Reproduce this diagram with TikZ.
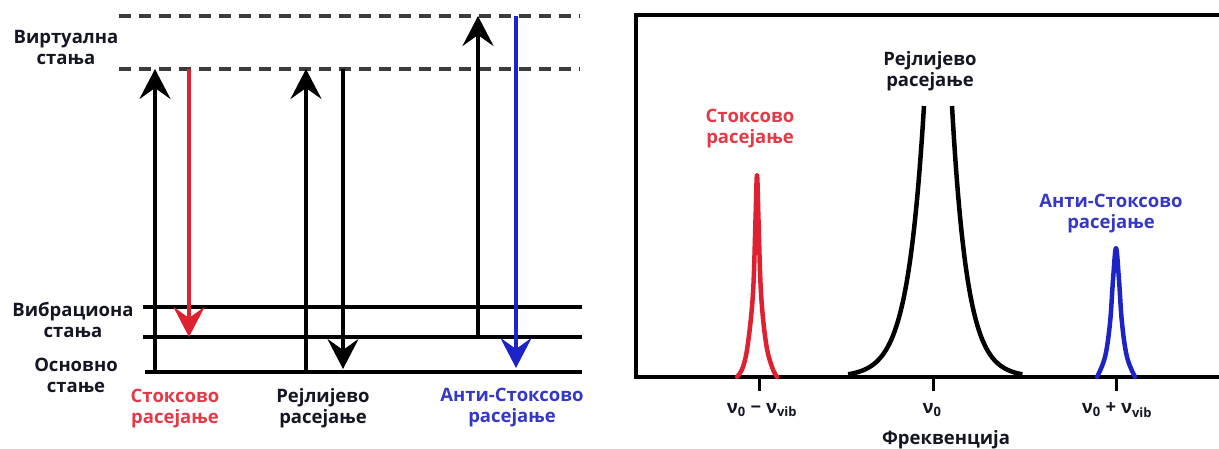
\documentclass[tikz,border=0pt]{standalone}
\usepackage{fontspec}
\setmainfont{Open Sans}
\usepackage{xcolor}
\usetikzlibrary{arrows.meta}
\definecolor{sred}{RGB}{222,32,48}
\definecolor{sblue}{RGB}{28,36,200}
\definecolor{tred}{RGB}{226,58,70}
\definecolor{tblue}{RGB}{52,56,196}
\definecolor{tdark}{RGB}{20,22,36}
\definecolor{dashgray}{RGB}{60,60,60}
\tikzstyle{statelevel} = [line width=3.6pt, black]
\tikzstyle{virtlevel} = [line width=3.6pt, dashgray, dash pattern=on 12pt off 8pt]
\tikzstyle{transarrow} = [line width=3.8pt, -{Stealth[length=30pt,width=31pt,inset=11pt]}]
\tikzstyle{lbl} = [font=\fontsize{18.5}{21}\selectfont\bfseries, align=center, text=tdark, inner sep=0pt]
\tikzstyle{peakline} = [line width=4.5pt, line join=round, line cap=round]
\tikzstyle{frameline} = [line width=4pt, black]
\tikzstyle{axtick} = [line width=3pt, black]

\begin{document}
\begin{tikzpicture}[x=1pt, y=-1pt]
\useasboundingbox (0,0) rectangle (1219,448);

% Energy levels: virtual (dashed), vibrational, ground
\coordinate (vt0) at (119,16);
\coordinate (vt1) at (580,16);
\coordinate (vs0) at (119,69);
\coordinate (vs1) at (580,69);
\coordinate (vb0) at (143,307);
\coordinate (vb1) at (582,307);
\coordinate (vc0) at (143,337);
\coordinate (vc1) at (582,337);
\coordinate (gr0) at (145,372);
\coordinate (gr1) at (582,372);
\draw[virtlevel] (vt0) -- (vt1);
\draw[virtlevel] (vs0) -- (vs1);
\draw[statelevel] (vb0) -- (vb1);
\draw[statelevel] (vc0) -- (vc1);
\draw[statelevel] (gr0) -- (gr1);
% Transitions, {up: ground/vib -> virtual, down: virtual -> level}
\coordinate (s0) at (155,372);
\coordinate (s1) at (155,69);
\coordinate (s2) at (189,69);
\coordinate (s3) at (189,337);
\coordinate (r0) at (306,372);
\coordinate (r1) at (306,69);
\coordinate (r2) at (343,69);
\coordinate (r3) at (343,369);
\coordinate (a0) at (478,337);
\coordinate (a1) at (478,16);
\coordinate (a2) at (516,16);
\coordinate (a3) at (516,368);
\draw[transarrow] (s0) -- (s1);
\draw[transarrow, sred] (s2) -- (s3);
\draw[transarrow] (r0) -- (r1);
\draw[transarrow] (r2) -- (r3);
\draw[transarrow] (a0) -- (a1);
\draw[transarrow, sblue] (a2) -- (a3);
% Level and process labels
\node[lbl] (virt) at (66,47) {Виртуална\\стања};
\node[lbl] (vibr) at (73,320) {Вибрациона\\стања};
\node[lbl] (grnd) at (76,375) {Основно\\стање};
\node[lbl, text=tred] (stL) at (175,409) {Стоксово\\расејање};
\node[lbl] (rlL) at (323,408) {Рејлијево\\расејање};
\node[lbl, text=tblue] (asL) at (512,408) {Анти-Стоксово\\расејање};

% Spectrum frame and frequency axis
\coordinate (fr0) at (636,377);
\coordinate (fr1) at (636,15);
\coordinate (fr2) at (1219,15);
\coordinate (ax1) at (1219,377);
\draw[frameline] (fr2) -- (fr1) -- (fr0) -- (ax1);
% Ticks
\coordinate (t1a) at (759,377);
\coordinate (t1b) at (759,391);
\coordinate (t2a) at (933,377);
\coordinate (t2b) at (933,391);
\coordinate (t3a) at (1116,377);
\coordinate (t3b) at (1116,391);
\draw[axtick] (t1a) -- (t1b);
\draw[axtick] (t2a) -- (t2b);
\draw[axtick] (t3a) -- (t3b);
% Peaks
\draw[peakline, sred] plot[smooth, tension=0.6] coordinates {(737,377) (743,367) (748,343) (753,293) (755.5,220) (757,175) (758.5,220) (761,293) (766,343) (772,367) (777,377)};
\draw[peakline, black, line cap=butt] plot[domain=0:4.6, samples=70, variable=\t] ({924-16.5*\t}, {377-271*exp(-\t)});
\draw[peakline, black, line cap=butt] plot[domain=0:4.6, samples=70, variable=\t] ({952+15.3*\t}, {377-271*exp(-\t)});
\draw[peakline, sblue] plot[smooth, tension=0.6] coordinates {(1097,377) (1105,357) (1110,323) (1113,280) (1116,248) (1119,280) (1122,323) (1127,357) (1135,377)};
% Peak labels
\node[lbl] (rlR) at (930,71) {Рејлијево\\расејање};
\node[lbl, text=tred] (stR) at (750,129) {Стоксово\\расејање};
\node[lbl, text=tblue] (asR) at (1111,214) {Анти-Стоксово\\расејање};
% Axis labels
\node[lbl] (f1) at (762,410) {ν\textsubscript{0} − ν\textsubscript{vib}};
\node[lbl] (f2) at (932,410) {ν\textsubscript{0}};
\node[lbl] (f3) at (1117,410) {ν\textsubscript{0} + ν\textsubscript{vib}};
\node[lbl] (freq) at (946,440) {Фреквенција};
\end{tikzpicture}
\end{document}
